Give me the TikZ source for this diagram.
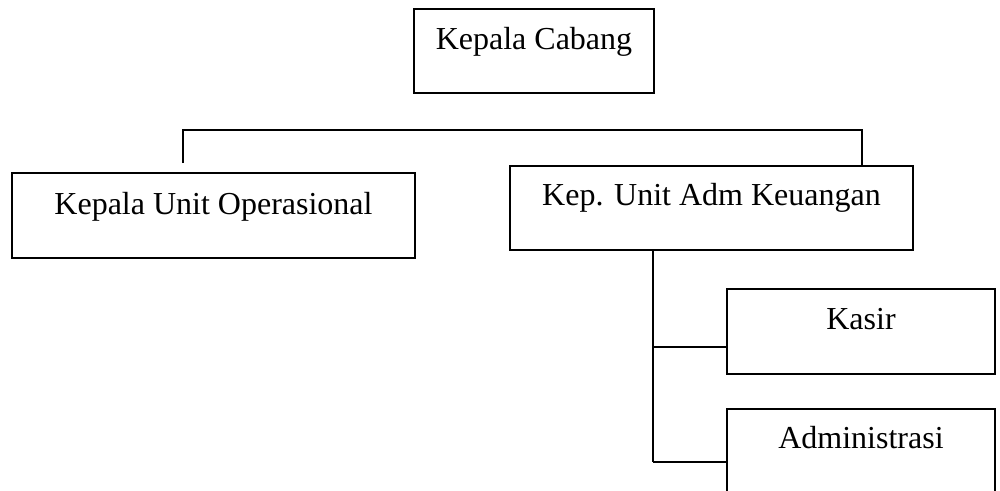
\documentclass[tikz,border=0pt]{standalone}
\usepackage{fontspec}
\setmainfont{Liberation Serif}
\begin{document}
\begin{tikzpicture}[x=0.75pt,y=-0.75pt,
  box/.style={draw=black, line width=0.8pt, inner sep=0pt, outer sep=0pt},
  txt/.style={anchor=base, inner sep=0pt, font=\fontsize{24}{28}\selectfont},
  conn/.style={draw=black, line width=1.2pt}]
\path[use as bounding box] (0,0) rectangle (1000,490);
\clip (0,0) rectangle (1000,490);
% boxes
\node[box, minimum width=180pt, minimum height=63pt] (kc) at (534,51) {};
\node[box, minimum width=302.25pt, minimum height=63.75pt] (kuo) at (213.5,215.5) {};
\node[box, minimum width=302.25pt, minimum height=63pt] (kua) at (711.5,208) {};
\node[box, minimum width=201pt, minimum height=63.75pt] (ks) at (861,331.5) {};
\node[box, minimum width=201pt, minimum height=75pt] (adm) at (861,459) {};
% texts
\node[txt] (tkc) at ([yshift=-30pt]kc.north) {Kepala Cabang};
\node[txt] (tkuo) at ([yshift=-31pt]kuo.north) {Kepala Unit Operasional};
\node[txt] (tkua) at ([yshift=-29.5pt]kua.north) {Kep. Unit Adm Keuangan};
\node[txt] (tks) at ([yshift=-30.5pt]ks.north) {Kasir};
\node[txt] (tadm) at ([yshift=-29.5pt]adm.north) {Administrasi};
% connectors
\coordinate (bar) at (0,130);
\coordinate (l1) at (183,163);
\coordinate (r1) at (862,0);
\draw[conn] (l1) -- (l1 |- bar) -- (r1 |- bar) -- (r1 |- kua.north);
\coordinate (v1) at (653,0);
\coordinate (vend) at (653,462);
\coordinate (b1) at (0,347);
\draw[conn] (v1 |- kua.south) -- (vend);
\draw[conn] (v1 |- b1) -- (ks.west |- b1);
\draw[conn] (vend) -- (adm.west |- vend);
\end{tikzpicture}
\end{document}
